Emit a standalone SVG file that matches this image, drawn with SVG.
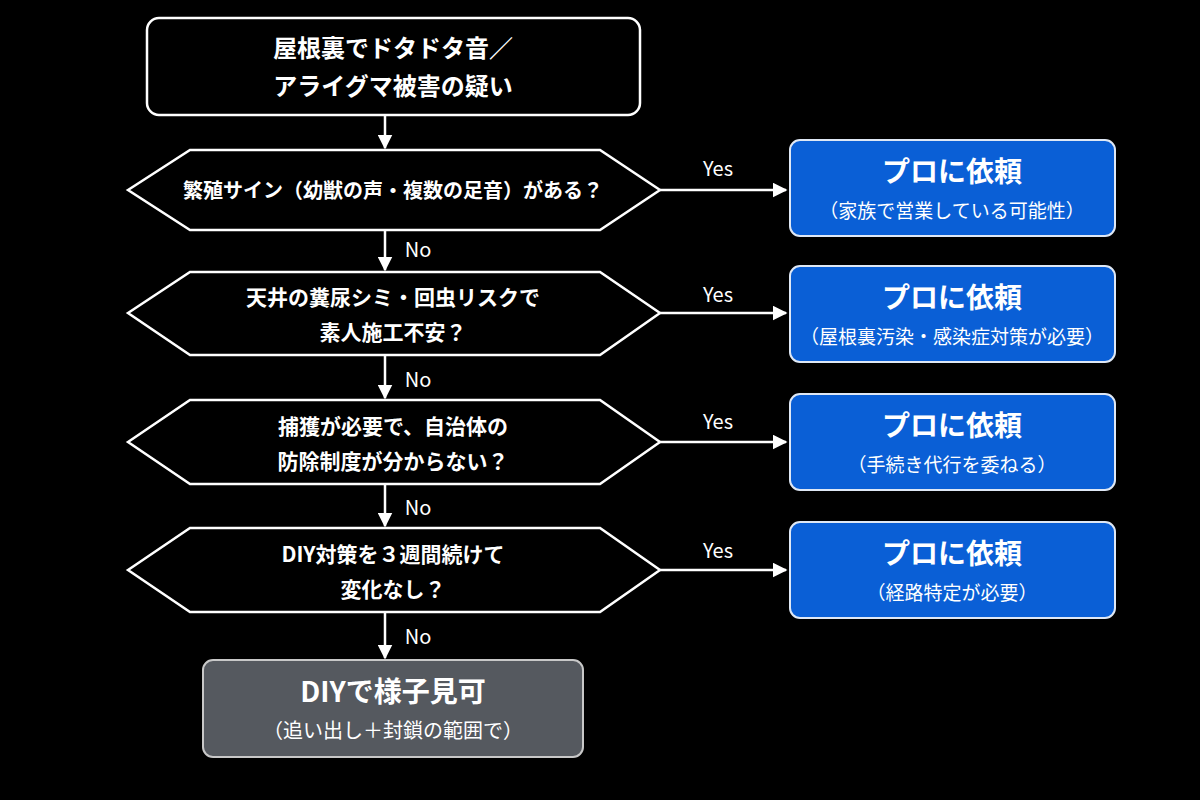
<svg xmlns="http://www.w3.org/2000/svg" width="1200" height="800" viewBox="0 0 1200 800">
<defs>
<marker id="ah" viewBox="0 0 10 10" refX="9" refY="5" markerWidth="6" markerHeight="6" orient="auto"><path d="M0,0 L10,5 L0,10 z" fill="#fff"/></marker>
<style>
text{font-family:"Noto Sans CJK JP","Noto Sans",sans-serif;fill:#fff;text-anchor:middle;font-weight:bold}
.n{fill:#000;stroke:#fff;stroke-width:2.5}
.b{fill:#0a5fd6;stroke:#dfe8f5;stroke-width:2}
.g{fill:#55595f;stroke:#c8c8c8;stroke-width:2}
.c line{stroke:#fff;stroke-width:2.5;marker-end:url(#ah)}
.t{font-size:24px}
.s{font-size:19px;font-weight:normal}
.h{font-size:28px}
.l{font-size:20px;font-weight:normal}
</style>
</defs>
<rect width="1200" height="800" fill="#000"/>
<g class="c">
<line x1="385" y1="115" x2="385" y2="148"/>
<line x1="385" y1="230" x2="385" y2="270"/>
<line x1="385" y1="355" x2="385" y2="398"/>
<line x1="385" y1="484" x2="385" y2="526"/>
<line x1="385" y1="612" x2="385" y2="658"/>
<line x1="660" y1="190" x2="786" y2="190"/>
<line x1="660" y1="313" x2="786" y2="313"/>
<line x1="660" y1="442" x2="786" y2="442"/>
<line x1="660" y1="570" x2="786" y2="570"/>
<text class="l" x="718" y="176">Yes</text>
<text class="l" x="718" y="302">Yes</text>
<text class="l" x="718" y="429">Yes</text>
<text class="l" x="718" y="558">Yes</text>
<text class="l" x="418" y="257">No</text>
<text class="l" x="418" y="387">No</text>
<text class="l" x="418" y="515">No</text>
<text class="l" x="418" y="644">No</text>
</g>
<g id="start"><rect class="n" x="147" y="18" width="493" height="97" rx="12"/>
<text class="t" x="393" y="57">屋根裏でドタドタ音／</text><text class="t" x="393" y="95">アライグマ被害の疑い</text></g>
<g id="q1"><polygon class="n" points="128,190 190,150 600,150 660,190 600,230 190,230"/>
<text x="393" y="198" style="font-size:20px">繁殖サイン（幼獣の声・複数の足音）がある？</text></g>
<g id="q2"><polygon class="n" points="128,313 190,272 600,272 660,313 600,355 190,355"/>
<text x="393" y="305" style="font-size:21px">天井の糞尿シミ・回虫リスクで</text><text x="393" y="340" style="font-size:21px">素人施工不安？</text></g>
<g id="q3"><polygon class="n" points="128,442 190,400 600,400 660,442 600,484 190,484"/>
<text x="393" y="434" style="font-size:21px">捕獲が必要で、自治体の</text><text x="393" y="469" style="font-size:21px">防除制度が分からない？</text></g>
<g id="q4"><polygon class="n" points="128,570 190,528 600,528 660,570 600,612 190,612"/>
<text x="393" y="562" style="font-size:21px">DIY対策を３週間続けて</text><text x="393" y="597" style="font-size:21px">変化なし？</text></g>
<g id="p1"><rect class="b" x="790" y="140" width="325" height="96" rx="10"/>
<text class="h" x="952" y="182">プロに依頼</text><text class="s" x="952" y="218">（家族で営業している可能性）</text></g>
<g id="p2"><rect class="b" x="790" y="266" width="325" height="96" rx="10"/>
<text class="h" x="952" y="308">プロに依頼</text><text class="s" x="952" y="344">（屋根裏汚染・感染症対策が必要）</text></g>
<g id="p3"><rect class="b" x="790" y="394" width="325" height="96" rx="10"/>
<text class="h" x="952" y="436">プロに依頼</text><text class="s" x="952" y="472">（手続き代行を委ねる）</text></g>
<g id="p4"><rect class="b" x="790" y="522" width="325" height="96" rx="10"/>
<text class="h" x="952" y="564">プロに依頼</text><text class="s" x="952" y="600">（経路特定が必要）</text></g>
<g id="diy"><rect class="g" x="203" y="660" width="380" height="97" rx="10"/>
<text class="h" x="393" y="702">DIYで様子見可</text><text class="s" x="393" y="738" style="font-size:20px">（追い出し＋封鎖の範囲で）</text></g>
</svg>
